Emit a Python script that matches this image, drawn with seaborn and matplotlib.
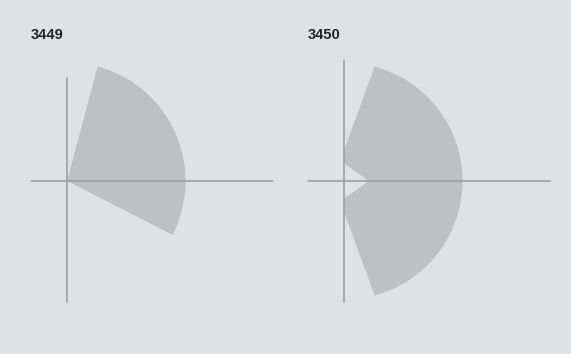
import numpy as np
import matplotlib.pyplot as plt
import seaborn as sns

sns.set_theme(style="white")
plt.rcParams["font.family"] = ["Liberation Sans", "DejaVu Sans"]

# panel titles
titles = ["3449", "3450"]

# left region: circular sector (degrees, radius)
left_theta = [-27, 75]
left_r = 1.0

# right region: sector cut at the y axis with a notch at the origin
right_theta = [-75, 75]
right_r = 1.0
right_edge_y = 0.26    # where the slanted edges meet the y axis
right_notch_y = 0.15   # notch ends on the y axis
right_notch_x = 0.21   # notch tip on the x axis

# coordinate axis extents (x range, y range)
left_axes_x = [-0.30, 1.74]
left_axes_y = [-1.02, 0.87]
right_axes_x = [-0.30, 1.74]
right_axes_y = [-1.02, 1.02]

bg = "#e0e1e3"
fill_col = "#bfc0c3"
line_col = "#9a9a9c"

fig = plt.figure(figsize=(5.71, 3.54), dpi=100, facecolor=bg)
unit = 118.5
W, H = 571, 354


def make_ax(ox):
    x0, x1, y0, y1 = -0.35, 1.8, -1.1, 1.1
    left = (ox + x0 * unit) / W
    bottom = (H - (181 - y0 * unit)) / H
    ax = fig.add_axes([left, bottom, (x1 - x0) * unit / W, (y1 - y0) * unit / H])
    ax.set_xlim(x0, x1)
    ax.set_ylim(y0, y1)
    ax.set_facecolor(bg)
    ax.axis("off")
    return ax


ax1 = make_ax(67)
ax2 = make_ax(344)

# left sector
t = np.radians(np.linspace(left_theta[0], left_theta[1], 200))
xs = np.concatenate([[0], left_r * np.cos(t), [0]])
ys = np.concatenate([[0], left_r * np.sin(t), [0]])
ax1.fill(xs, ys, color=fill_col, lw=0)

# right region
t = np.radians(np.linspace(right_theta[0], right_theta[1], 300))
xs = np.concatenate([[right_notch_x, 0, 0], right_r * np.cos(t), [0, 0]])
ys = np.concatenate([[0, -right_notch_y, -right_edge_y], right_r * np.sin(t),
                     [right_edge_y, right_notch_y]])
ax2.fill(xs, ys, color=fill_col, lw=0)

for ax, ax_x, ax_y in [(ax1, left_axes_x, left_axes_y), (ax2, right_axes_x, right_axes_y)]:
    sns.lineplot(x=ax_x, y=[0, 0], color=line_col, lw=1.1, ax=ax)
    ax.plot([0, 0], ax_y, color=line_col, lw=1.1)

fig.text(31 / W, 1 - 39 / H, titles[0], fontsize=10.5, fontweight="bold", color="#222222")
fig.text(308 / W, 1 - 39 / H, titles[1], fontsize=10.5, fontweight="bold", color="#222222")

fig.savefig("out.png", dpi=100, facecolor=bg)
